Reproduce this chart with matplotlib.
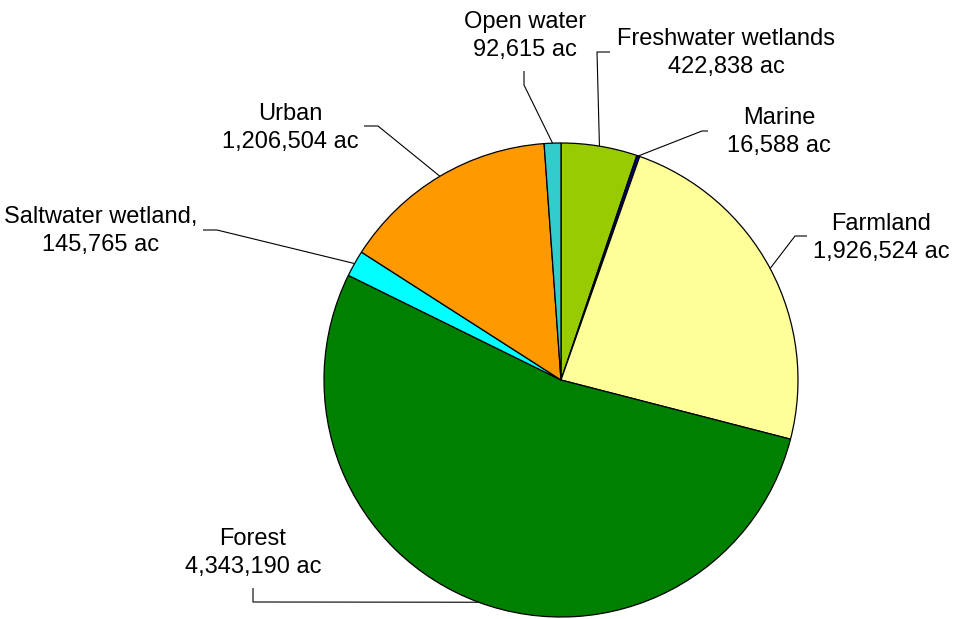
import numpy as np
import matplotlib
matplotlib.use("Agg")
import matplotlib.pyplot as plt

categories = ["Freshwater wetlands", "Marine", "Farmland", "Forest",
              "Saltwater wetland,", "Urban", "Open water"]
acres = [422838, 16588, 1926524, 4343190, 145765, 1206504, 92615]
colors = ["#99CC00", "#000080", "#FFFF99", "#008000", "#00FFFF", "#FF9900", "#33CCCC"]

# label layout (pixel coords, y downward): text centre, leader-line elbow points
label_pos = {
    "Freshwater wetlands": (726, 53),
    "Marine": (779, 132),
    "Farmland": (881, 238),
    "Forest": (253, 553),
    "Saltwater wetland,": (101, 231),
    "Urban": (290, 128),
    "Open water": (525, 36),
}
elbows = {
    "Freshwater wetlands": [(610, 52), (597, 52)],
    "Marine": [(708, 131), (702, 131)],
    "Farmland": [(807, 236), (795, 236)],
    "Forest": [(253, 588), (253, 602)],
    "Saltwater wetland,": [(203, 230), (217, 230)],
    "Urban": [(364, 126), (378, 126)],
    "Open water": [(524, 71), (524, 85)],
}

W, H = 958, 619
fig = plt.figure(figsize=(W / 100, H / 100), dpi=100)
ax = fig.add_axes([0, 0, 1, 1])

cx, cy, r = 561, H - 380, 237
wedges, _ = ax.pie(acres, colors=colors, startangle=90, counterclock=False,
                   center=(cx, cy), radius=r, frame=True,
                   wedgeprops=dict(edgecolor="black", linewidth=0.9))
ax.set_xlim(0, W)
ax.set_ylim(0, H)
ax.set_aspect("equal")
ax.axis("off")

font = "Liberation Sans"
for w, name, val in zip(wedges, categories, acres):
    mid = np.deg2rad((w.theta1 + w.theta2) / 2)
    ax_pt = (cx + r * np.cos(mid), cy + r * np.sin(mid))
    pts = [(x, H - y) for x, y in elbows[name]] + [ax_pt]
    xs, ys = zip(*pts)
    ax.plot(xs, ys, color="black", lw=0.8, solid_capstyle="butt", zorder=1)
    tx, ty = label_pos[name]
    ax.text(tx, H - ty, f"{name}\n{val:,} ac", ha="center", va="center",
            multialignment="center", fontsize=17, family=font, color="black",
            linespacing=1.32)

fig.savefig("out.png", dpi=100, facecolor="white")
